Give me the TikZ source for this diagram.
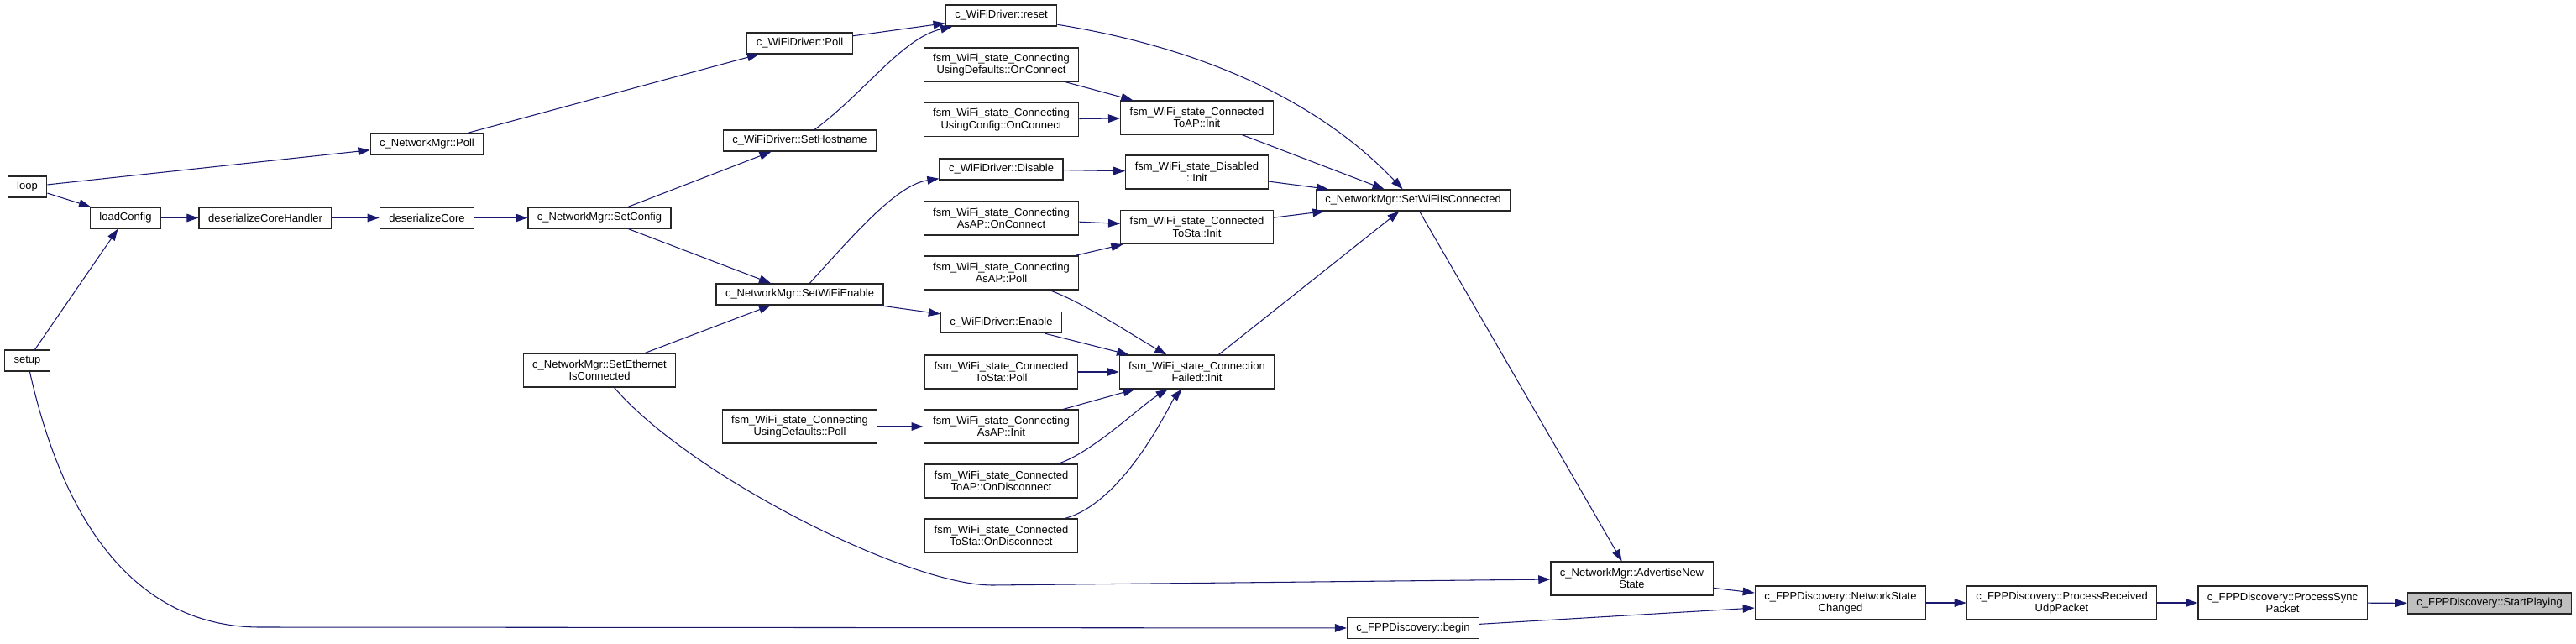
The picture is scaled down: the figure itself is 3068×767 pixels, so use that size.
\documentclass[tikz,border=0pt]{standalone}
\usepackage{fontspec}
\setmainfont{Liberation Sans}
\usetikzlibrary{arrows.meta}
\definecolor{edgeblue}{HTML}{191970}
\definecolor{rootgrey}{HTML}{BFBFBF}
\begin{document}
\begin{tikzpicture}[x=0.02cm,y=-0.02cm,
  font=\fontsize{7.4}{8.2}\selectfont,
  fn/.style={draw=black!85,line width=0.7pt,fill=white,inner xsep=0.22cm,inner ysep=2pt,minimum height=0.5cm},
  fntwo/.style={fn,align=center,minimum height=0.8cm},
  callarrow/.style={draw=edgeblue,line width=0.6pt,-{Triangle[length=8pt,width=5.5pt]}}]
\useasboundingbox (0,0) rectangle (3068,767);
\node[fn] (loop) at (32.5,222.5) {loop};
\node[fn] (setup) at (32.5,429.5) {setup};
\node[fn] (loadcfg) at (149.5,259.5) {loadConfig};
\node[fn] (coreh) at (316,259.5) {deserializeCoreHandler};
\node[fn] (core) at (508.5,259.5) {deserializeCore};
\node[fn] (netpoll) at (508.5,171.5) {c\_NetworkMgr::Poll};
\node[fn] (setcfg) at (714,259.5) {c\_NetworkMgr::SetConfig};
\node[fntwo] (seteth) at (714,441) {c\_NetworkMgr::SetEthernet\\IsConnected};
\node[fn] (wifipoll) at (952.5,51.5) {c\_WiFiDriver::Poll};
\node[fn] (sethost) at (952.5,167.5) {c\_WiFiDriver::SetHostname};
\node[fn] (setwifi) at (952.5,350.5) {c\_NetworkMgr::SetWiFiEnable};
\node[fntwo] (defpoll) at (952.5,508) {fsm\_WiFi\_state\_Connecting\\UsingDefaults::Poll};
\node[fn] (reset) at (1192.5,18.5) {c\_WiFiDriver::reset};
\node[fntwo] (defconn) at (1192.5,77) {fsm\_WiFi\_state\_Connecting\\UsingDefaults::OnConnect};
\node[fntwo] (cfgconn) at (1192.5,142.5) {fsm\_WiFi\_state\_Connecting\\UsingConfig::OnConnect};
\node[fn] (disable) at (1192.5,201.5) {c\_WiFiDriver::Disable};
\node[fntwo] (apconn) at (1192.5,260) {fsm\_WiFi\_state\_Connecting\\AsAP::OnConnect};
\node[fntwo] (appoll) at (1192.5,325) {fsm\_WiFi\_state\_Connecting\\AsAP::Poll};
\node[fn] (enable) at (1192.5,384) {c\_WiFiDriver::Enable};
\node[fntwo] (stapoll) at (1192.5,443) {fsm\_WiFi\_state\_Connected\\ToSta::Poll};
\node[fntwo] (apinit) at (1192.5,508) {fsm\_WiFi\_state\_Connecting\\AsAP::Init};
\node[fntwo] (apdisc) at (1192.5,573) {fsm\_WiFi\_state\_Connected\\ToAP::OnDisconnect};
\node[fntwo] (stadisc) at (1192.5,638) {fsm\_WiFi\_state\_Connected\\ToSta::OnDisconnect};
\node[fntwo] (toapinit) at (1425.5,140) {fsm\_WiFi\_state\_Connected\\ToAP::Init};
\node[fntwo] (disinit) at (1425.5,205) {fsm\_WiFi\_state\_Disabled\\::Init};
\node[fntwo] (tostainit) at (1425.5,270.5) {fsm\_WiFi\_state\_Connected\\ToSta::Init};
\node[fntwo] (failinit) at (1425.5,443) {fsm\_WiFi\_state\_Connection\\Failed::Init};
\node[fn] (setconn) at (1683,238.5) {c\_NetworkMgr::SetWiFiIsConnected};
\node[fn] (begin) at (1683,748) {c\_FPPDiscovery::begin};
\node[fntwo] (advert) at (1943.5,689) {c\_NetworkMgr::AdvertiseNew\\State};
\node[fntwo] (netchg) at (2192,718) {c\_FPPDiscovery::NetworkState\\Changed};
\node[fntwo] (rcvudp) at (2455.5,718) {c\_FPPDiscovery::ProcessReceived\\UdpPacket};
\node[fntwo] (syncpkt) at (2718.5,718) {c\_FPPDiscovery::ProcessSync\\Packet};
\node[fn,fill=rootgrey] (start) at (2965,718.5) {c\_FPPDiscovery::StartPlaying};
\draw[callarrow] (loop) -- (netpoll);
\draw[callarrow] (loop) -- (loadcfg);
\draw[callarrow] (setup) -- (loadcfg);
\draw[callarrow] (setup) .. controls (75,620) and (160,747) .. (310,747) -- (begin);
\draw[callarrow] (loadcfg) -- (coreh);
\draw[callarrow] (coreh) -- (core);
\draw[callarrow] (core) -- (setcfg);
\draw[callarrow] (netpoll) -- (wifipoll);
\draw[callarrow] (setcfg) -- (sethost);
\draw[callarrow] (setcfg) -- (setwifi);
\draw[callarrow] (seteth) -- (setwifi);
\draw[callarrow] (seteth) .. controls (820,565) and (1080,697) .. (1182,697) -- (advert);
\draw[callarrow] (wifipoll) -- (reset);
\draw[callarrow] (sethost) .. controls (1030,110) and (1075,45) .. (reset);
\draw[callarrow] (setwifi) .. controls (1025,270) and (1070,220) .. (disable);
\draw[callarrow] (setwifi) -- (enable);
\draw[callarrow] (defpoll) -- (apinit);
\draw[callarrow] (reset) .. controls (1450,60) and (1580,130) .. (setconn);
\draw[callarrow] (defconn) -- (toapinit);
\draw[callarrow] (cfgconn) -- (toapinit);
\draw[callarrow] (disable) -- (disinit);
\draw[callarrow] (apconn) -- (tostainit);
\draw[callarrow] (appoll) -- (tostainit);
\draw[callarrow] (appoll) .. controls (1290,360) and (1350,400) .. (failinit);
\draw[callarrow] (enable) -- (failinit);
\draw[callarrow] (stapoll) -- (failinit);
\draw[callarrow] (apinit) -- (failinit);
\draw[callarrow] (apdisc) .. controls (1300,540) and (1360,482) .. (failinit);
\draw[callarrow] (stadisc) .. controls (1340,598) and (1395,478) .. (failinit);
\draw[callarrow] (toapinit) -- (setconn);
\draw[callarrow] (disinit) -- (setconn);
\draw[callarrow] (tostainit) -- (setconn);
\draw[callarrow] (failinit) -- (setconn);
\draw[callarrow] (setconn) -- (advert);
\draw[callarrow] (advert) -- (netchg);
\draw[callarrow] (begin) -- (netchg);
\draw[callarrow] (netchg) -- (rcvudp);
\draw[callarrow] (rcvudp) -- (syncpkt);
\draw[callarrow] (syncpkt) -- (start);
\end{tikzpicture}
\end{document}
